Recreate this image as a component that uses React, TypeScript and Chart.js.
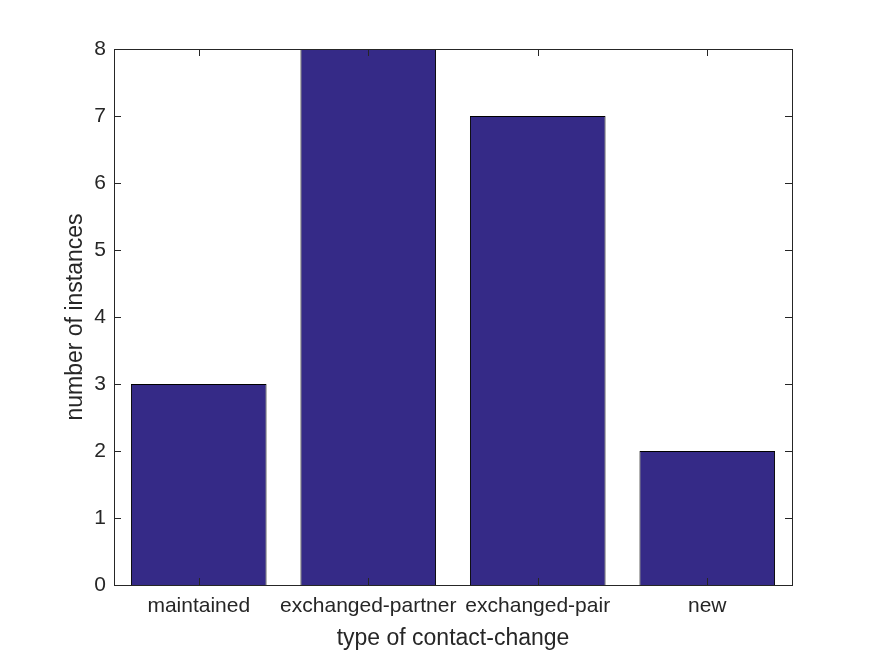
import React, { useEffect, useRef } from "react";
import { Chart, registerables } from "chart.js";

Chart.register(...registerables);

const categories = ["maintained", "exchanged-partner", "exchanged-pair", "new"];
const counts = [3, 8, 7, 2];
const yTicks = [0, 1, 2, 3, 4, 5, 6, 7, 8];
const xTitle = "type of contact-change";
const yTitle = "number of instances";

const FONT = "'Liberation Sans', Arial, Helvetica, sans-serif";
const TEXT = "#262626";

const boxPlugin = {
  id: "matlabBox",
  afterDatasetsDraw(chart: any) {
    const { ctx, chartArea } = chart;
    const { left, right, top, bottom } = chartArea;
    const x = chart.scales.x;
    const y = chart.scales.y;
    const len = 7;
    ctx.save();
    ctx.strokeStyle = TEXT;
    ctx.lineWidth = 1;
    ctx.beginPath();
    yTicks.forEach((v) => {
      const py = Math.round(y.getPixelForValue(v)) + 0.5;
      ctx.moveTo(left, py);
      ctx.lineTo(left + len, py);
      ctx.moveTo(right, py);
      ctx.lineTo(right - len, py);
    });
    categories.forEach((_, i) => {
      const px = Math.round(x.getPixelForValue(i)) + 0.5;
      ctx.moveTo(px, bottom);
      ctx.lineTo(px, bottom - len);
      ctx.moveTo(px, top);
      ctx.lineTo(px, top + len);
    });
    ctx.stroke();
    ctx.strokeRect(Math.round(left) + 0.5, Math.round(top) + 0.5, Math.round(right - left), Math.round(bottom - top));
    ctx.restore();
  },
};

export default function App() {
  const ref = useRef<HTMLCanvasElement | null>(null);
  useEffect(() => {
    document.body.style.margin = "0";
    const chart = new Chart(ref.current as HTMLCanvasElement, {
      type: "bar",
      data: {
        labels: categories,
        datasets: [
          {
            data: counts,
            backgroundColor: "#352A87",
            borderColor: "#000000",
            borderWidth: 1,
            barPercentage: 0.8,
            categoryPercentage: 1,
          },
        ],
      },
      options: {
        animation: false,
        responsive: true,
        maintainAspectRatio: false,
        layout: { padding: { left: 0, right: 83, top: 49, bottom: 0 } },
        plugins: { legend: { display: false }, tooltip: { enabled: false } },
        scales: {
          x: {
            grid: { display: false, drawTicks: false },
            border: { display: false },
            ticks: { color: TEXT, font: { family: FONT, size: 21 }, padding: 9, maxRotation: 0, autoSkip: false },
            title: { display: true, text: xTitle, color: TEXT, font: { family: FONT, size: 23 }, padding: { top: 0, bottom: 4 } },
            afterFit: (s: any) => {
              s.height = 71;
            },
          },
          y: {
            min: 0,
            max: 8,
            grid: { display: false, drawTicks: false },
            border: { display: false },
            ticks: { stepSize: 1, color: TEXT, font: { family: FONT, size: 21 }, padding: 8 },
            title: { display: true, text: yTitle, color: TEXT, font: { family: FONT, size: 23 }, padding: { top: 62, bottom: 0 } },
            afterFit: (s: any) => {
              s.width = 114;
            },
          },
        },
      },
      plugins: [boxPlugin],
    });
    return () => chart.destroy();
  }, []);
  return (
    <div style={{ position: "absolute", left: 0, top: 0, width: 875, height: 656, background: "#fff" }}>
      <canvas ref={ref} />
    </div>
  );
}
